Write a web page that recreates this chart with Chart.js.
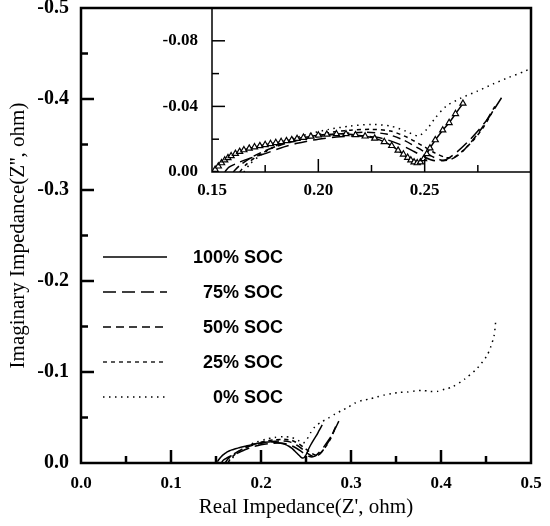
<!DOCTYPE html>
<html>
<head>
<meta charset="utf-8">
<script src="https://cdn.jsdelivr.net/npm/chart.js@4.4.1/dist/chart.umd.min.js"></script>
<style>
  html, body { margin: 0; padding: 0; background: #fff; }
  #wrap { position: relative; width: 550px; height: 526px; }
  #main { position: absolute; left: 0; top: 0; }
  #inset { position: absolute; left: 150px; top: 0; }
</style>
</head>
<body>
<div id="wrap">
  <canvas id="main" width="550" height="526" style="width:550px;height:526px"></canvas>
  <canvas id="inset" width="390" height="210" style="width:390px;height:210px"></canvas>
</div>
<script>
// series names (legend order)
const seriesNames = ['100% SOC', '75% SOC', '50% SOC', '25% SOC', '0% SOC'];

// Z' (ohm) and -Z'' (ohm)
const soc100Re = [0.1515, 0.153, 0.1545, 0.156, 0.1575, 0.159, 0.161, 0.163, 0.165, 0.1675,
    0.170, 0.1725, 0.175, 0.1775, 0.180, 0.1825, 0.185, 0.1875, 0.190, 0.193,
    0.1965, 0.200, 0.204, 0.2085, 0.213, 0.2175, 0.222, 0.2265, 0.231, 0.2345,
    0.2375, 0.240, 0.242, 0.2435, 0.245, 0.2465, 0.248, 0.2495, 0.251, 0.2525,
    0.255, 0.2585, 0.2615, 0.2645, 0.268];
const soc100NegIm = [0.0015, 0.0035, 0.0055, 0.0072, 0.0086, 0.0098, 0.0112, 0.0124, 0.0134, 0.0144,
    0.0152, 0.0159, 0.0166, 0.0172, 0.0178, 0.0184, 0.0190, 0.0196, 0.0203, 0.0210,
    0.0217, 0.0224, 0.0229, 0.0232, 0.0232, 0.0226, 0.0218, 0.0205, 0.0184, 0.0160,
    0.0132, 0.0108, 0.0088, 0.0072, 0.0060, 0.0055, 0.0060, 0.0080, 0.0110, 0.0145,
    0.0195, 0.0255, 0.0300, 0.0355, 0.0418];

const soc75Re = [0.156, 0.158, 0.162, 0.167, 0.174, 0.182, 0.190, 0.200, 0.210, 0.220,
    0.230, 0.238, 0.245, 0.250, 0.255, 0.260, 0.265, 0.270, 0.275, 0.280, 0.2865];
const soc75NegIm = [0.000, 0.003, 0.0055, 0.008, 0.0108, 0.0145, 0.0175, 0.0200, 0.0215, 0.0220,
    0.0205, 0.0170, 0.0125, 0.0090, 0.0068, 0.0075, 0.0120, 0.0180, 0.0250, 0.0330, 0.0460];

const soc50Re = [0.160, 0.163, 0.168, 0.175, 0.183, 0.192, 0.202, 0.212, 0.222, 0.232,
    0.240, 0.247, 0.253, 0.258, 0.262, 0.267, 0.272, 0.277, 0.283];
const soc50NegIm = [0.000, 0.004, 0.0085, 0.013, 0.0168, 0.0198, 0.0220, 0.0235, 0.0242, 0.0232,
    0.0195, 0.0145, 0.0098, 0.0072, 0.0075, 0.0115, 0.0185, 0.0270, 0.0400];

const soc25Re = [0.163, 0.166, 0.171, 0.178, 0.186, 0.195, 0.205, 0.215, 0.225, 0.234,
    0.242, 0.249, 0.255, 0.260, 0.264, 0.268, 0.273, 0.278, 0.282];
const soc25NegIm = [0.000, 0.0045, 0.0095, 0.0145, 0.0185, 0.0215, 0.0240, 0.0255, 0.0260, 0.0250,
    0.0210, 0.0160, 0.0115, 0.0088, 0.0092, 0.0130, 0.0195, 0.0280, 0.0370];

const soc0Re = [0.165, 0.168, 0.172, 0.178, 0.186, 0.195, 0.205, 0.215, 0.225, 0.234,
    0.241, 0.247, 0.251, 0.255, 0.260, 0.267, 0.2748, 0.2822, 0.2896, 0.297,
    0.3044, 0.3126, 0.3204, 0.3286, 0.337, 0.3452, 0.3537, 0.3626, 0.3711, 0.3792,
    0.3878, 0.3959, 0.4044, 0.4126, 0.426, 0.4396, 0.4507, 0.455, 0.459, 0.461];
const soc0NegIm = [0.000, 0.005, 0.0095, 0.0145, 0.0195, 0.0230, 0.0260, 0.0280, 0.0290, 0.0280,
    0.0250, 0.0220, 0.0260, 0.0330, 0.0400, 0.0450, 0.0493, 0.0537, 0.0577, 0.0614,
    0.0659, 0.0688, 0.0703, 0.0725, 0.0747, 0.0762, 0.0776, 0.0780, 0.0791, 0.0798,
    0.0787, 0.0787, 0.0813, 0.0836, 0.0920, 0.1034, 0.1173, 0.1270, 0.1400, 0.1580];

const seriesRe = [soc100Re, soc75Re, soc50Re, soc25Re, soc0Re];
const seriesNegIm = [soc100NegIm, soc75NegIm, soc50NegIm, soc25NegIm, soc0NegIm];

// axis ranges
const mainX = [0, 0.5], mainY = [-0.5, 0];
const insetX = [0.15, 0.30], insetY = [-0.10, 0];

// line styles
const seriesDash = [[], [13, 6], [8, 5], [4, 4], [1.5, 4.5]];

Chart.defaults.color = '#000';
Chart.defaults.animation = false;

function isMultiple(v, step) {
    const q = v / step;
    return Math.abs(q - Math.round(q)) < 1e-6;
}
function fmt(v, d) {
    const p = Math.pow(10, d);
    const r = Math.round(v * p) / p;
    return r === 0 ? (0).toFixed(d) : r.toFixed(d);
}
function toPoints(re, negIm) {
    return re.map((x, i) => ({ x: x, y: -negIm[i] }));
}
// keep the plot box where we put it (no extra padding for edge labels)
function fixX(h) {
    return s => { s.height = h; s.paddingLeft = 0; s.paddingRight = 0; };
}
function fixY(w) {
    return s => { s.width = w; s.paddingTop = 0; s.paddingBottom = 0; };
}

// inward ticks + frame, drawn from the chart's own scales
function makeFrame(cfg) {
    return {
        id: 'frame_' + cfg.name,
        afterDraw(chart) {
            const ctx = chart.ctx;
            const a = chart.chartArea;
            const xs = chart.scales.x, ys = chart.scales.y;
            ctx.save();
            ctx.strokeStyle = '#000';
            ctx.lineWidth = cfg.tickWidth;
            xs.ticks.forEach(t => {
                const px = xs.getPixelForValue(t.value);
                if (Math.abs(px - a.left) < 2 || Math.abs(px - a.right) < 2) return;
                const len = isMultiple(t.value, cfg.xMajor) ? cfg.majorLen : cfg.minorLen;
                ctx.beginPath();
                ctx.moveTo(px, a.bottom);
                ctx.lineTo(px, a.bottom - len);
                ctx.stroke();
            });
            ys.ticks.forEach(t => {
                const py = ys.getPixelForValue(t.value);
                if (Math.abs(py - a.top) < 2 || Math.abs(py - a.bottom) < 2) return;
                const len = isMultiple(t.value, cfg.yMajor) ? cfg.majorLen : cfg.minorLen;
                ctx.beginPath();
                ctx.moveTo(a.left, py);
                ctx.lineTo(a.left + len, py);
                ctx.stroke();
            });
            ctx.lineWidth = cfg.frameWidth;
            ctx.beginPath();
            if (cfg.fullBox) {
                ctx.rect(a.left, a.top, a.right - a.left, a.bottom - a.top);
            } else {
                ctx.moveTo(a.left, a.top);
                ctx.lineTo(a.left, a.bottom);
                ctx.lineTo(a.right, a.bottom);
            }
            ctx.stroke();
            ctx.restore();
        }
    };
}

// legend drawn inside the main plot
const legendPlugin = {
    id: 'socLegend',
    afterDraw(chart) {
        const ctx = chart.ctx;
        const a = chart.chartArea;
        ctx.save();
        ctx.strokeStyle = '#000';
        ctx.fillStyle = '#000';
        ctx.lineWidth = 1.3;
        ctx.font = 'bold 18px "Liberation Sans", Arial, sans-serif';
        ctx.textAlign = 'right';
        ctx.textBaseline = 'middle';
        seriesNames.forEach((name, i) => {
            const y = a.top + 249 + i * 35;
            ctx.setLineDash(seriesDash[i]);
            ctx.beginPath();
            ctx.moveTo(a.left + 22, y);
            ctx.lineTo(a.left + 86, y);
            ctx.stroke();
            ctx.setLineDash([]);
            ctx.fillText(name, a.left + 202, y + 1);
        });
        ctx.restore();
    }
};

const serif = '"Liberation Serif", "Times New Roman", serif';
const tickFont = { family: serif, size: 17, weight: 'bold' };
const mainYTickFont = { family: serif, size: 20, weight: 'bold' };
const titleFont = { family: serif, size: 21, weight: 'normal' };

// main chart
new Chart(document.getElementById('main'), {
    type: 'scatter',
    data: {
        datasets: seriesNames.map((name, i) => ({
            label: name,
            data: toPoints(seriesRe[i], seriesNegIm[i]),
            showLine: true,
            borderColor: '#000',
            borderWidth: 1.5,
            borderDash: seriesDash[i],
            tension: 0.25,
            pointRadius: 0
        }))
    },
    options: {
        responsive: false,
        layout: { padding: { top: 8, right: 19, left: 0, bottom: 0 } },
        plugins: { legend: { display: false }, tooltip: { enabled: false } },
        scales: {
            x: {
                type: 'linear', min: mainX[0], max: mainX[1],
                afterFit: fixX(63),
                grid: { display: false, drawTicks: false },
                border: { display: false },
                ticks: {
                    stepSize: 0.05, autoSkip: false, maxRotation: 0, padding: 10,
                    font: tickFont,
                    callback: v => isMultiple(v, 0.1) ? fmt(v, 1) : ''
                },
                title: { display: true, text: "Real Impedance(Z', ohm)", font: titleFont, padding: { top: 0, bottom: 6 } }
            },
            y: {
                type: 'linear', min: mainY[0], max: mainY[1], reverse: true,
                afterFit: fixY(81),
                grid: { display: false, drawTicks: false },
                border: { display: false },
                ticks: {
                    stepSize: 0.05, autoSkip: false, padding: 12,
                    font: mainYTickFont,
                    callback: v => isMultiple(v, 0.1) ? fmt(v, 1) : ''
                },
                title: { display: true, text: "Imaginary Impedance(Z'', ohm)", font: titleFont, padding: { top: 6, bottom: 0 } }
            }
        }
    },
    plugins: [makeFrame({ name: 'main', xMajor: 0.1, yMajor: 0.1, majorLen: 13, minorLen: 7, tickWidth: 2.5, frameWidth: 2.5, fullBox: true }), legendPlugin]
});

// inset chart (zoomed view)
new Chart(document.getElementById('inset'), {
    type: 'scatter',
    data: {
        datasets: seriesNames.map((name, i) => ({
            label: name,
            data: toPoints(seriesRe[i], seriesNegIm[i]),
            showLine: true,
            borderColor: '#000',
            borderWidth: 1.5,
            borderDash: seriesDash[i],
            tension: 0.25,
            pointRadius: i === 0 ? 3.5 : 0,
            pointStyle: 'triangle',
            pointBackgroundColor: '#fff',
            pointBorderColor: '#000',
            pointBorderWidth: 1.2,
            order: i === 0 ? 0 : 1
        }))
    },
    options: {
        responsive: false,
        layout: { padding: { top: 8, right: 9, left: 0, bottom: 0 } },
        plugins: { legend: { display: false }, tooltip: { enabled: false } },
        scales: {
            x: {
                type: 'linear', min: insetX[0], max: insetX[1],
                afterFit: fixX(38),
                grid: { display: false, drawTicks: false },
                border: { display: false },
                ticks: {
                    stepSize: 0.025, autoSkip: false, maxRotation: 0, padding: 8,
                    font: tickFont,
                    callback: v => (isMultiple(v, 0.05) && v < insetX[1] - 0.001) ? fmt(v, 2) : ''
                }
            },
            y: {
                type: 'linear', min: insetY[0], max: insetY[1], reverse: true,
                afterFit: fixY(62),
                grid: { display: false, drawTicks: false },
                border: { display: false },
                ticks: {
                    stepSize: 0.02, autoSkip: false, padding: 14,
                    font: tickFont,
                    callback: v => isMultiple(v, 0.04) ? fmt(v, 2) : ''
                }
            }
        }
    },
    plugins: [makeFrame({ name: 'inset', xMajor: 0.05, yMajor: 0.04, majorLen: 13, minorLen: 7, tickWidth: 1.5, frameWidth: 1.5, fullBox: false })]
});
</script>
</body>
</html>
